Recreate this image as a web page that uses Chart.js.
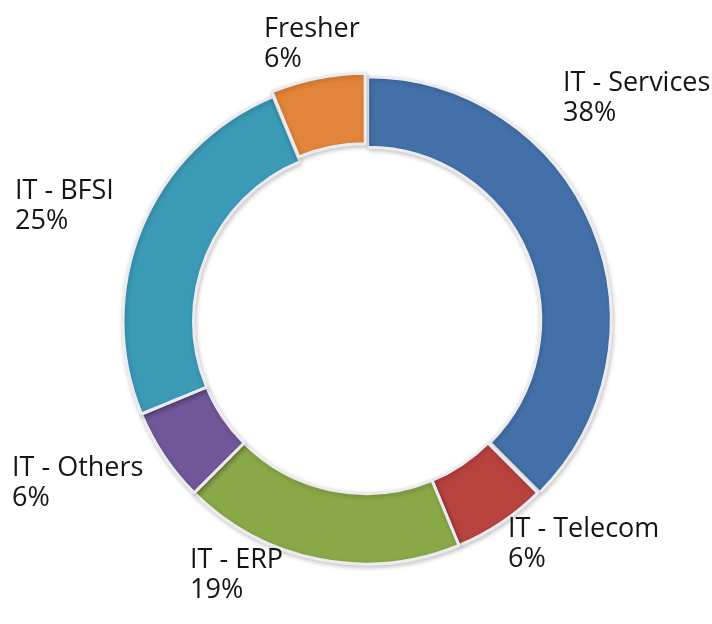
<!DOCTYPE html>
<html>
<head>
<meta charset="utf-8">
<script src="https://cdn.jsdelivr.net/npm/chart.js@4/dist/chart.umd.min.js"></script>
<style>
  html, body { margin: 0; padding: 0; background: #ffffff; }
  #wrap { width: 712px; height: 624px; }
</style>
</head>
<body>
<div id="wrap"><canvas id="grafico" width="712" height="624"></canvas></div>
<script>
// datos del grafico
const categorias = ['IT - Services', 'IT - Telecom', 'IT - ERP', 'IT - Others', 'IT - BFSI', 'Fresher'];
const cantidad = [6, 1, 3, 1, 4, 1];

const COLORS = ['#4470a9', '#b8423e', '#89a847', '#70579a', '#3b9ab6', '#e2853a'];
const OFFSETS = [7, 0, 0, 0, 0, 12];

// posicion de cada etiqueta respecto al centro del anillo
const posEtiquetas = [
    [197, -230],
    [142, 216],
    [-176, 247],
    [-354, 155],
    [-351, -122],
    [-102, -284]
];

var total = cantidad.reduce(function (a, b) { return a + b; }, 0);

var sombra = {
    id: 'sombra',
    beforeDatasetsDraw: function (chart) {
        var ctx = chart.ctx;
        ctx.save();
        ctx.shadowColor = 'rgba(0,0,0,0.2)';
        ctx.shadowBlur = 5;
        ctx.shadowOffsetX = 1;
        ctx.shadowOffsetY = 2;
    },
    afterDatasetsDraw: function (chart) {
        chart.ctx.restore();
    }
};

var etiquetas = {
    id: 'etiquetas',
    afterDraw: function (chart) {
        var ctx = chart.ctx;
        var arcs = chart.getDatasetMeta(0).data;
        ctx.save();
        ctx.fillStyle = '#151515';
        ctx.font = '27px "Open Sans"';
        ctx.textAlign = 'left';
        ctx.textBaseline = 'alphabetic';
        for (var i = 0; i < arcs.length; i++) {
            var x = arcs[i].x + posEtiquetas[i][0];
            var y = arcs[i].y + posEtiquetas[i][1];
            var pct = Math.round(cantidad[i] / total * 100) + '%';
            ctx.fillText(categorias[i], x, y);
            ctx.fillText(pct, x, y + 30);
        }
        ctx.restore();
    }
};

var graphTarget = document.getElementById('grafico');

var grafico = new Chart(graphTarget, {
    type: 'doughnut',
    data: {
        labels: categorias,
        datasets: [
            {
                data: cantidad,
                backgroundColor: COLORS,
                borderColor: '#ececf0',
                borderWidth: 3,
                offset: OFFSETS
            }
        ]
    },
    options: {
        responsive: false,
        animation: false,
        radius: 243,
        cutout: '71%',
        layout: { padding: { left: 20, top: 18, right: 0, bottom: 0 } },
        plugins: {
            legend: { display: false },
            tooltip: { enabled: false }
        }
    },
    plugins: [sombra, etiquetas]
});
</script>
</body>
</html>
